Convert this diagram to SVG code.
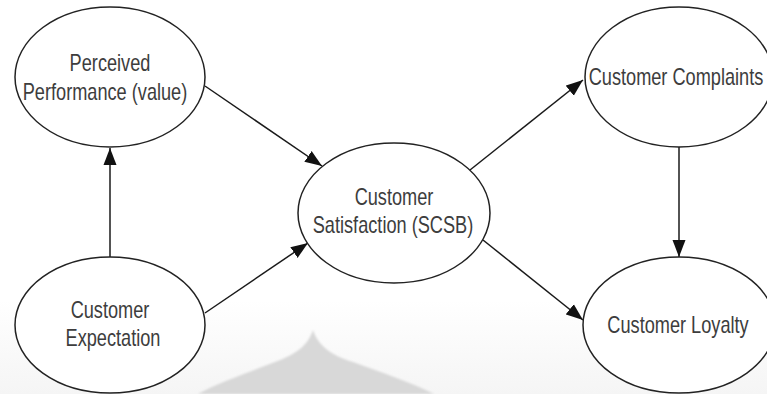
<svg xmlns="http://www.w3.org/2000/svg" width="767" height="394" viewBox="0 0 767 394">
  <defs>
    <marker id="arrow" markerUnits="userSpaceOnUse" markerWidth="18" markerHeight="14" refX="17" refY="7" orient="auto">
      <path d="M0,0.5 L17,7 L0,13.5 Z" fill="#111"/>
    </marker>
    <filter id="soft" x="-10%" y="-10%" width="120%" height="120%">
      <feGaussianBlur stdDeviation="0.8"/>
    </filter>
    <linearGradient id="floor" x1="0" y1="0" x2="0" y2="1">
      <stop offset="0" stop-color="#ffffff"/>
      <stop offset="1" stop-color="#f5f5f5"/>
    </linearGradient>
  </defs>
  <style>
    .node ellipse { fill: #ffffff; stroke: #222222; stroke-width: 1.5; }
    .node text { font-family: "Liberation Sans", Arial, sans-serif; font-size: 23px; fill: #3d3d3d; text-anchor: middle; }
    #connectors line { stroke: #1a1a1a; stroke-width: 1.5; marker-end: url(#arrow); }
  </style>

  <!-- background -->
  <rect x="0" y="0" width="767" height="394" fill="#ffffff"/>
  <rect x="0" y="300" width="767" height="94" fill="url(#floor)"/>
  <!-- faint dome shape near the bottom -->
  <path d="M313,330 C318,345 330,355 353,362 C380,372 410,382 434,394 L198,394 C220,382 250,372 275,362 C297,354 308,345 313,330 Z" fill="#d8d8d8" filter="url(#soft)"/>

  <g id="connectors">
    <line x1="110" y1="257" x2="110" y2="148"/>
    <line x1="205" y1="86" x2="322" y2="166"/>
    <line x1="205" y1="313" x2="308" y2="243"/>
    <line x1="470" y1="170" x2="583" y2="80"/>
    <line x1="483" y1="240" x2="583" y2="320"/>
    <line x1="679" y1="147" x2="679" y2="257"/>
  </g>

  <g id="perceived-performance" class="node">
    <ellipse cx="110" cy="77" rx="95" ry="70"/>
    <g transform="translate(110,71) scale(0.79,1)"><text x="0" y="0">Perceived</text></g>
    <g transform="translate(105,100) scale(0.79,1)"><text x="0" y="0">Performance (value)</text></g>
  </g>

  <g id="customer-expectation" class="node">
    <ellipse cx="110" cy="325" rx="95" ry="68"/>
    <g transform="translate(110,318) scale(0.79,1)"><text x="0" y="0">Customer</text></g>
    <g transform="translate(113,346) scale(0.79,1)"><text x="0" y="0">Expectation</text></g>
  </g>

  <g id="customer-satisfaction" class="node">
    <ellipse cx="394" cy="213" rx="96" ry="70"/>
    <g transform="translate(394,205) scale(0.79,1)"><text x="0" y="0">Customer</text></g>
    <g transform="translate(393,233) scale(0.79,1)"><text x="0" y="0">Satisfaction (SCSB)</text></g>
  </g>

  <g id="customer-complaints" class="node">
    <ellipse cx="679" cy="77" rx="94" ry="70"/>
    <g transform="translate(676,85) scale(0.79,1)"><text x="0" y="0">Customer Complaints</text></g>
  </g>

  <g id="customer-loyalty" class="node">
    <ellipse cx="679" cy="325" rx="96" ry="68"/>
    <g transform="translate(678,333) scale(0.79,1)"><text x="0" y="0">Customer Loyalty</text></g>
  </g>
</svg>
